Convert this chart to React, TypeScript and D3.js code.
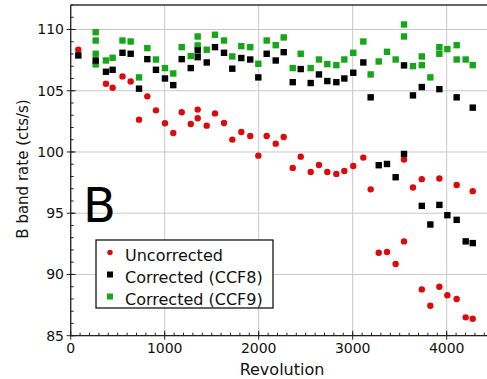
import React from "react";
import * as d3 from "d3";

// Uncorrected B band count rate versus revolution
const uncorrectedRev = [81, 375, 446, 551, 638, 727, 815, 907, 1003, 1091, 1181, 1277, 1351, 1351, 1447, 1535, 1631, 1719, 1815, 1910, 1996, 2085, 2181, 2266, 2362, 2447, 2553, 2641, 2730, 2826, 2911, 3006, 3113, 3191, 3277, 3365, 3457, 3546, 3546, 3641, 3735, 3735, 3826, 3922, 3922, 4007, 4106, 4106, 4202, 4277, 4277];
const uncorrectedRate = [108.35, 105.57, 105.25, 106.17, 105.76, 102.64, 104.54, 103.4, 102.34, 101.55, 103.24, 102.29, 103.46, 102.75, 102.15, 103.15, 102.37, 101.01, 101.63, 101.3, 99.7, 101.3, 100.68, 101.22, 98.7, 99.62, 98.37, 98.94, 98.37, 98.21, 98.45, 98.86, 99.54, 96.95, 91.77, 91.83, 90.85, 99.38, 92.7, 97.1, 97.78, 88.78, 87.45, 97.83, 89.0, 88.3, 97.31, 88.0, 86.5, 96.8, 86.39];

// Corrected with CCF8
const ccf8Rev = [81, 266, 375, 446, 551, 638, 727, 815, 907, 1003, 1091, 1181, 1277, 1351, 1351, 1447, 1535, 1631, 1719, 1815, 1910, 1996, 2085, 2181, 2266, 2362, 2447, 2553, 2641, 2730, 2826, 2911, 3006, 3113, 3191, 3277, 3365, 3457, 3546, 3546, 3641, 3735, 3735, 3826, 3922, 3922, 4007, 4106, 4106, 4202, 4277, 4277];
const ccf8Rate = [107.88, 107.47, 106.55, 106.71, 108.1, 108.02, 105.17, 107.58, 106.71, 106.0, 105.46, 107.58, 106.85, 108.29, 107.74, 107.31, 108.56, 108.1, 106.8, 107.67, 107.55, 106.09, 108.02, 107.47, 108.15, 105.7, 106.77, 105.63, 106.33, 105.79, 105.7, 106.0, 106.47, 107.31, 104.46, 98.92, 99.02, 97.94, 107.07, 99.84, 104.62, 105.3, 95.6, 94.08, 105.13, 95.68, 94.84, 104.46, 94.46, 92.7, 103.62, 92.56];

// Corrected with CCF9
const ccf9Rev = [266, 266, 266, 266, 375, 446, 551, 638, 727, 815, 907, 1003, 1091, 1181, 1277, 1351, 1351, 1447, 1535, 1631, 1719, 1815, 1910, 1996, 2085, 2181, 2266, 2362, 2447, 2553, 2641, 2730, 2826, 2911, 3006, 3113, 3191, 3277, 3365, 3457, 3546, 3546, 3641, 3735, 3735, 3826, 3922, 3922, 4007, 4106, 4106, 4202, 4277];
const ccf9Rate = [109.78, 109.1, 108.02, 107.15, 107.47, 107.69, 109.1, 109.02, 106.09, 108.48, 107.55, 106.85, 106.41, 108.56, 107.83, 109.43, 108.7, 108.35, 109.57, 109.1, 107.8, 108.64, 108.56, 107.2, 109.1, 108.72, 109.35, 106.85, 108.02, 106.85, 107.55, 107.17, 107.09, 107.55, 108.1, 109.02, 106.33, 107.39, 108.18, 107.55, 110.41, 109.43, 107.01, 107.8, 107.09, 106.09, 108.56, 108.02, 108.4, 108.72, 107.55, 107.55, 107.09];

const xTicks = [0, 1000, 2000, 3000, 4000];
const yTicks = [85, 90, 95, 100, 105, 110];
const legendLabels = ["Uncorrected", "Corrected (CCF8)", "Corrected (CCF9)"];

const W = 487;
const H = 379;
const RED = "#dc0a0a";
const BLACK = "#000000";
const GREEN = "#17a617";
const FONT = "'DejaVu Sans', Verdana, sans-serif";

export default function App() {
  const left = 70.7;
  const top = 5;
  const bottom = 335.7;
  const x = d3.scaleLinear().domain([0, 4500]).range([left, left + 4500 * 0.094]);
  const y = d3.scaleLinear().domain([85, 112]).range([bottom, top]);
  const right = x(4500);

  const xMinor = d3.range(0, 4501, 100);
  const yMinor = d3.range(85, 112.01, 1);

  const pts = (xs: number[], ys: number[]) => xs.map((v, i) => [x(v), y(ys[i])] as [number, number]);
  const red = pts(uncorrectedRev, uncorrectedRate);
  const blk = pts(ccf8Rev, ccf8Rate);
  const grn = pts(ccf9Rev, ccf9Rate);
  const sq = 6.4;

  const lg = { x: 96, y: 240, w: 177, h: 68 };

  return (
    <svg width={W} height={H} style={{ position: "absolute", left: 0, top: 0, background: "#fff" }} fontFamily={FONT}>
      <defs>
        <clipPath id="plot">
          <rect x={left} y={top} width={right - left} height={bottom - top} />
        </clipPath>
      </defs>
      <rect x={0} y={0} width={W} height={H} fill="#fff" />
      {/* grid */}
      {xTicks.map((t) => (
        <line key={"gx" + t} x1={x(t)} x2={x(t)} y1={top} y2={bottom} stroke="#c8c8c8" strokeWidth={1} />
      ))}
      {yTicks.map((t) => (
        <line key={"gy" + t} x1={left} x2={right} y1={y(t)} y2={y(t)} stroke="#c8c8c8" strokeWidth={1} />
      ))}
      {/* minor ticks */}
      {xMinor.map((t) => (
        <line key={"mx" + t} x1={x(t)} x2={x(t)} y1={bottom} y2={bottom - 3} stroke="#222" strokeWidth={1} />
      ))}
      {yMinor.map((t) => (
        <line key={"my" + t} x1={left} x2={left + 3} y1={y(t)} y2={y(t)} stroke="#222" strokeWidth={1} />
      ))}
      {/* major ticks */}
      {xTicks.map((t) => (
        <line key={"tx" + t} x1={x(t)} x2={x(t)} y1={bottom + 4} y2={bottom - 5} stroke="#222" strokeWidth={1} />
      ))}
      {yTicks.map((t) => (
        <line key={"ty" + t} x1={left - 4} x2={left + 5} y1={y(t)} y2={y(t)} stroke="#222" strokeWidth={1} />
      ))}
      {/* frame */}
      <line x1={left} x2={right} y1={top} y2={top} stroke="#333" strokeWidth={1.5} />
      <line x1={left} x2={left} y1={top} y2={bottom} stroke="#222" strokeWidth={1.3} />
      <line x1={left} x2={right} y1={bottom} y2={bottom} stroke="#222" strokeWidth={1.3} />

      {/* tick labels */}
      {xTicks.map((t) => (
        <text key={"lx" + t} x={x(t)} y={353} textAnchor="middle" fontSize={14} fill="#111">
          {t}
        </text>
      ))}
      {yTicks.map((t) => (
        <text key={"ly" + t} x={64} y={y(t) + 5} textAnchor="end" fontSize={14} fill="#111">
          {t}
        </text>
      ))}
      <text x={282} y={375} textAnchor="middle" fontSize={16} fill="#111">
        Revolution
      </text>
      <text transform={`translate(28,169) rotate(-90)`} textAnchor="middle" fontSize={15} fill="#111">
        B band rate (cts/s)
      </text>

      {/* data */}
      <g clipPath="url(#plot)">
        {red.map(([cx, cy], i) => (
          <circle key={"r" + i} cx={cx} cy={cy} r={3.2} fill={RED} />
        ))}
        {grn.map(([cx, cy], i) => (
          <rect key={"g" + i} x={cx - sq / 2} y={cy - sq / 2} width={sq} height={sq} fill={GREEN} />
        ))}
        {blk.map(([cx, cy], i) => (
          <rect key={"b" + i} x={cx - sq / 2} y={cy - sq / 2} width={sq} height={sq} fill={BLACK} />
        ))}
      </g>

      {/* panel letter */}
      <text x={83} y={222} fontSize={48} fill="#000">
        B
      </text>

      {/* legend */}
      <rect x={lg.x} y={lg.y} width={lg.w} height={lg.h} fill="#fff" stroke="#000" strokeWidth={1.2} />
      {legendLabels.map((label, i) => {
        const my = 252.5 + i * 22;
        return (
          <g key={label}>
            {i === 0 ? (
              <circle cx={110} cy={my} r={2.7} fill={RED} />
            ) : (
              <rect x={107} y={my - 3} width={6} height={6} fill={i === 1 ? BLACK : GREEN} />
            )}
            <text x={125} y={261 + i * 22} fontSize={16} fill="#111">
              {label}
            </text>
          </g>
        );
      })}
    </svg>
  );
}
